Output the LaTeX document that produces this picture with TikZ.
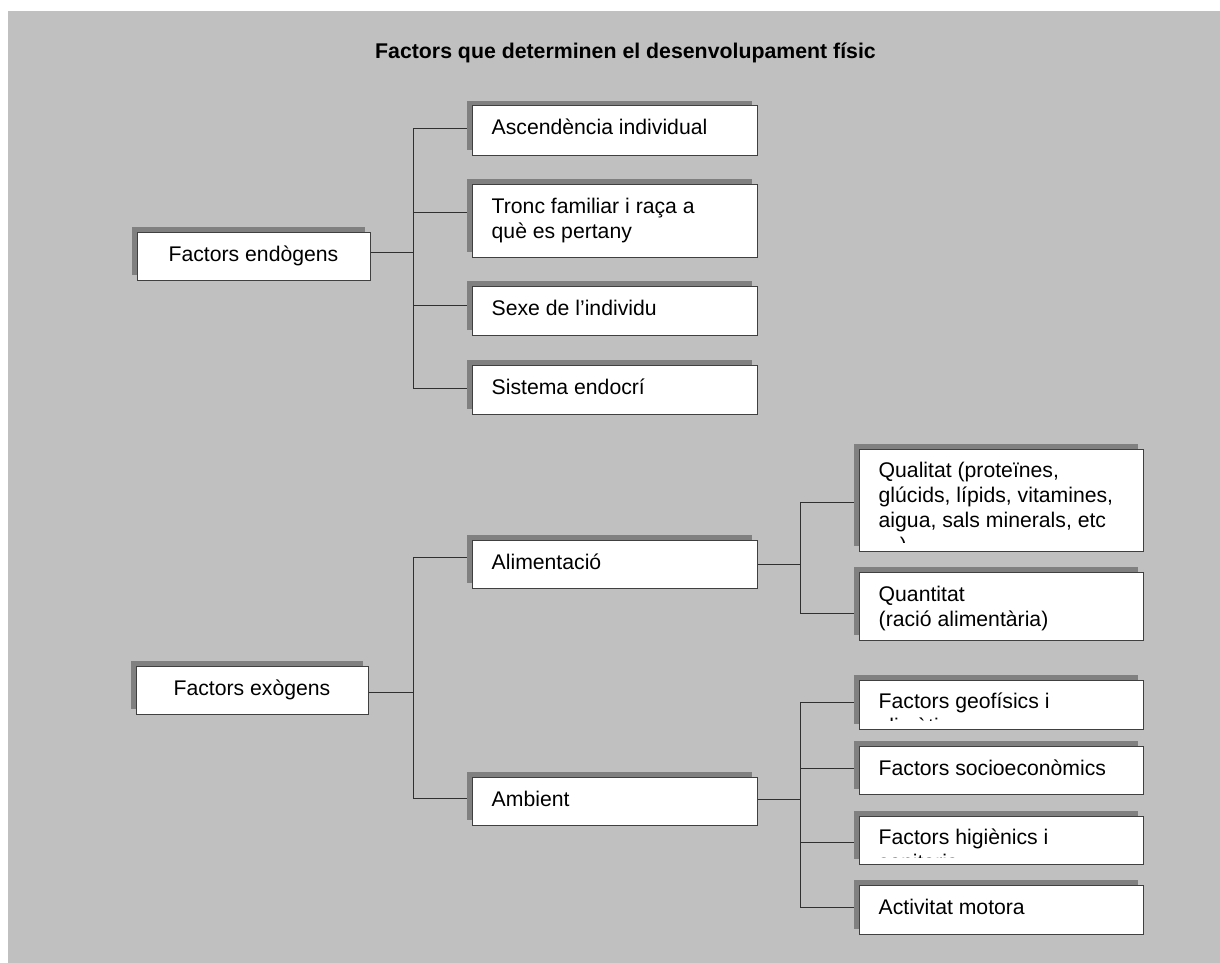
\documentclass[tikz,border=0pt]{standalone}
\usepackage{fontspec}
\setmainfont{Liberation Sans}
\usetikzlibrary{calc,shadows}
\definecolor{bggray}{HTML}{C0C0C0}
\definecolor{shadowgray}{HTML}{808080}
\definecolor{linegray}{HTML}{303030}
\newcommand{\boxlines}[1]{\parbox[t]{270pt}{\raggedright #1}}
\begin{document}
\begin{tikzpicture}[x=1pt,y=-1pt,
  frame/.style={rectangle, draw=black!75, line width=1pt, fill=white, inner sep=0pt,
    drop shadow={shadow xshift=-5pt, shadow yshift=5pt, opacity=1, fill=shadowgray}},
  conn/.style={draw=linegray, line width=1pt},
  txt/.style={anchor=base west, inner sep=0pt, font=\fontsize{21.2}{25}\selectfont},
  ctxt/.style={anchor=base, inner sep=0pt, font=\fontsize{21.2}{25}\selectfont},
  titletxt/.style={anchor=base, inner sep=0pt, font=\bfseries\fontsize{21.3}{24}\selectfont}
]
\useasboundingbox (0,0) rectangle (1220,963);
\fill[white] (0,0) rectangle (1220,963);
\fill[bggray] (8,11) rectangle (1220,963);

% title
\node[titletxt] (title) at (625.5,59) {Factors que determinen el desenvolupament físic};

% boxes
\node[frame, minimum width=233pt, minimum height=48pt] (endo) at (253.5,256) {};
\node[frame, minimum width=285pt, minimum height=49pt] (asc) at (614.5,130.5) {};
\node[frame, minimum width=285pt, minimum height=73pt] (tronc) at (614.5,220.5) {};
\node[frame, minimum width=285pt, minimum height=49pt] (sexe) at (614.5,310.5) {};
\node[frame, minimum width=285pt, minimum height=49pt] (sist) at (614.5,389.5) {};

\node[frame, minimum width=232pt, minimum height=48pt] (exo) at (252,690) {};
\node[frame, minimum width=285pt, minimum height=48pt] (alim) at (614.5,564) {};
\node[frame, minimum width=285pt, minimum height=48pt] (amb) at (614.5,801) {};

\node[frame, minimum width=284pt, minimum height=102pt] (qual) at (1001,500) {};
\node[frame, minimum width=284pt, minimum height=68pt] (quant) at (1001,606) {};
\node[frame, minimum width=284pt, minimum height=49pt] (geo) at (1001,704.5) {};
\node[frame, minimum width=284pt, minimum height=48pt] (socio) at (1001,770) {};
\node[frame, minimum width=284pt, minimum height=48pt] (hig) at (1001,840) {};
\node[frame, minimum width=284pt, minimum height=49pt] (act) at (1001,909.5) {};

% texts
\node[ctxt] (endo-t) at ([yshift=-29.5pt]endo.north) {Factors endògens};
\node[ctxt] (exo-t) at ([yshift=-29.5pt]exo.north) {Factors exògens};
\node[txt] (asc-t) at ([xshift=20pt,yshift=-29.5pt]asc.north west) {Ascendència individual};
\node[txt] (tronc-t) at ([xshift=20pt,yshift=-29.5pt]tronc.north west) {\boxlines{Tronc familiar i raça a\\què es pertany}};
\node[txt] (sexe-t) at ([xshift=20pt,yshift=-29.5pt]sexe.north west) {Sexe de l’individu};
\node[txt] (sist-t) at ([xshift=20pt,yshift=-29.5pt]sist.north west) {Sistema endocrí};
\node[txt] (alim-t) at ([xshift=20pt,yshift=-29.5pt]alim.north west) {Alimentació};
\node[txt] (amb-t) at ([xshift=20pt,yshift=-29.5pt]amb.north west) {Ambient};
\begin{scope}
  \clip (qual.north west) rectangle ([yshift=9pt]qual.south east);
  \node[txt] (qual-t) at ([xshift=20pt,yshift=-29pt]qual.north west) {\boxlines{Qualitat (proteïnes,\\glúcids, lípids, vitamines,\\aigua, sals minerals, etc\\…)}};
\end{scope}
\node[txt] (quant-t) at ([xshift=20pt,yshift=-29.5pt]quant.north west) {\boxlines{Quantitat\\(ració alimentària)}};
\begin{scope}
  \clip (geo.north west) rectangle ([yshift=9pt]geo.south east);
  \node[txt] (geo-t) at ([xshift=20pt,yshift=-29pt]geo.north west) {\boxlines{Factors geofísics i\\climàtics}};
\end{scope}
\node[txt] (socio-t) at ([xshift=20pt,yshift=-29.5pt]socio.north west) {Factors socioeconòmics};
\begin{scope}
  \clip (hig.north west) rectangle ([yshift=7.5pt]hig.south east);
  \node[txt] (hig-t) at ([xshift=20pt,yshift=-29pt]hig.north west) {\boxlines{Factors higiènics i\\sanitaris}};
\end{scope}
\node[txt] (act-t) at ([xshift=20pt,yshift=-29.5pt]act.north west) {Activitat motora};

% connector points
\coordinate (bar1) at (413,0);
\coordinate (bar2) at (800,0);
\coordinate (endo-out) at ([yshift=4pt]endo.east);
\coordinate (exo-out) at ([yshift=-2.7pt]exo.east);
\coordinate (alim-out) at (alim.east);
\coordinate (amb-out) at ([yshift=2pt]amb.east);
\coordinate (asc-in) at ([xshift=-5pt,yshift=1.5pt]asc.west);
\coordinate (tronc-in) at ([xshift=-5pt,yshift=8.5pt]tronc.west);
\coordinate (sexe-in) at ([xshift=-5pt,yshift=5.5pt]sexe.west);
\coordinate (sist-in) at ([xshift=-5pt,yshift=1.5pt]sist.west);
\coordinate (alim-in) at ([xshift=-5pt,yshift=7pt]alim.west);
\coordinate (amb-in) at ([xshift=-5pt,yshift=3pt]amb.west);
\coordinate (qual-in) at ([xshift=-5pt,yshift=-2pt]qual.west);
\coordinate (quant-in) at ([xshift=-5pt,yshift=-7pt]quant.west);
\coordinate (geo-in) at ([xshift=-5pt,yshift=2.5pt]geo.west);
\coordinate (socio-in) at ([xshift=-5pt,yshift=2pt]socio.west);
\coordinate (hig-in) at ([xshift=-5pt,yshift=-2pt]hig.west);
\coordinate (act-in) at ([xshift=-5pt,yshift=2.5pt]act.west);

% endogenous tree
\draw[conn] (endo-out) -- (endo-out -| bar1);
\draw[conn] (asc-in -| bar1) -- ([yshift=-1pt]sist-in -| bar1);
\foreach \b in {asc,tronc,sexe,sist}
  \draw[conn] (\b-in -| bar1) -- (\b-in);

% exogenous tree
\draw[conn] (exo-out) -- (exo-out -| bar1);
\draw[conn] (alim-in -| bar1) -- (amb-in -| bar1);
\foreach \b in {alim,amb}
  \draw[conn] (\b-in -| bar1) -- (\b-in);

\draw[conn] (alim-out) -- (alim-out -| bar2);
\draw[conn] (qual-in -| bar2) -- (quant-in -| bar2);
\foreach \b in {qual,quant}
  \draw[conn] (\b-in -| bar2) -- (\b-in);

\draw[conn] (amb-out) -- (amb-out -| bar2);
\draw[conn] (geo-in -| bar2) -- ([yshift=-1pt]act-in -| bar2);
\foreach \b in {geo,socio,hig,act}
  \draw[conn] (\b-in -| bar2) -- (\b-in);
\end{tikzpicture}
\end{document}
